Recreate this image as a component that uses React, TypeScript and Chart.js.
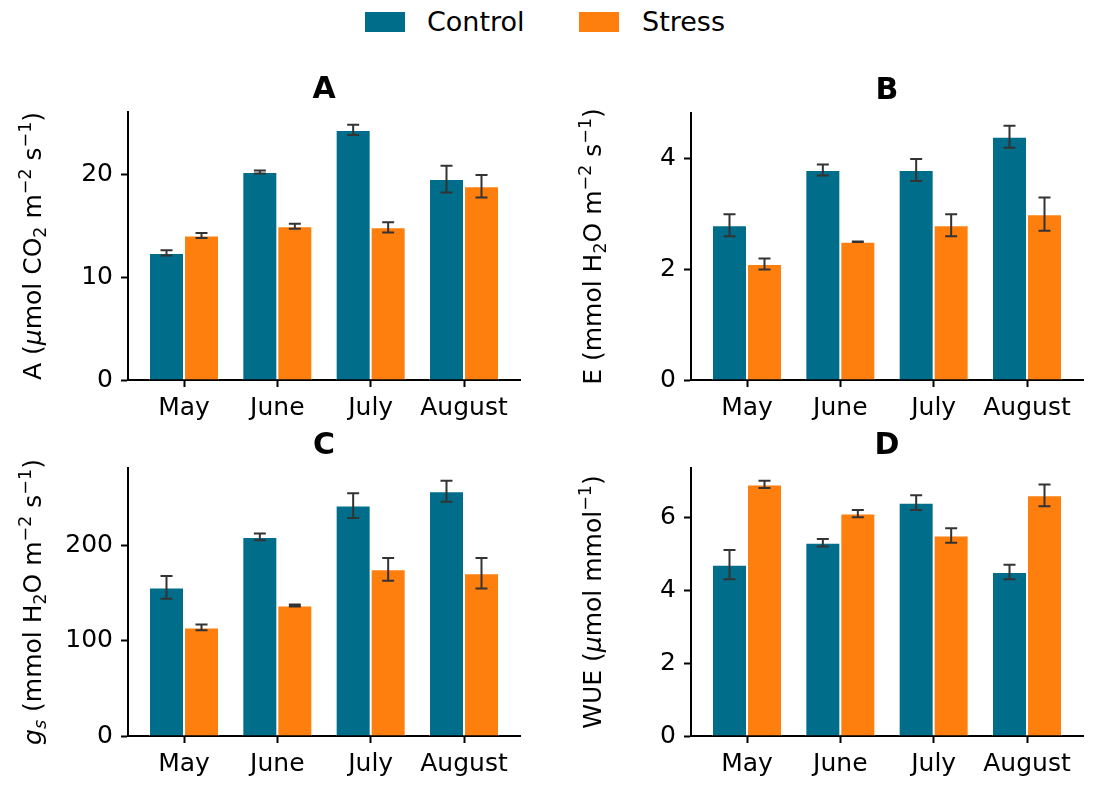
import React, { useEffect, useRef } from "react";
import { Chart, registerables } from "chart.js";

Chart.register(...registerables);

// ---------- data ----------
const months = ["May", "June", "July", "August"];
const seriesNames = ["Control", "Stress"];
const seriesColors = ["#006E8A", "#FF7F0E"];

const aControl = [12.4, 20.3, 24.4, 19.6];
const aControlErr = [0.25, 0.15, 0.5, 1.3];
const aStress = [14.1, 15.0, 14.9, 18.9];
const aStressErr = [0.25, 0.25, 0.5, 1.1];
const aTicks = [0, 10, 20];

const eControl = [2.8, 3.8, 3.8, 4.4];
const eControlErr = [0.2, 0.1, 0.2, 0.2];
const eStress = [2.1, 2.5, 2.8, 3.0];
const eStressErr = [0.1, 0.005, 0.2, 0.3];
const eTicks = [0, 2, 4];

const gsControl = [156, 209, 242, 257];
const gsControlErr = [12, 3.5, 13, 11];
const gsStress = [114, 137, 175, 171];
const gsStressErr = [3, 1, 12, 16];
const gsTicks = [0, 100, 200];

const wueControl = [4.7, 5.3, 6.4, 4.5];
const wueControlErr = [0.4, 0.1, 0.2, 0.2];
const wueStress = [6.9, 6.1, 5.5, 6.6];
const wueStressErr = [0.1, 0.1, 0.2, 0.3];
const wueTicks = [0, 2, 4, 6];

// label segments: [text, kind] kind: n normal, i italic, sub, subi, sup
const aLabel = [["A (", "n"], ["μ", "i"], ["mol CO", "n"], ["2", "sub"], [" m", "n"], ["−2", "sup"], [" s", "n"], ["−1", "sup"], [")", "n"]];
const eLabel = [["E (mmol H", "n"], ["2", "sub"], ["O m", "n"], ["−2", "sup"], [" s", "n"], ["−1", "sup"], [")", "n"]];
const gsLabel = [["g", "i"], ["s", "subi"], [" (mmol H", "n"], ["2", "sub"], ["O m", "n"], ["−2", "sup"], [" s", "n"], ["−1", "sup"], [")", "n"]];
const wueLabel = [["WUE (", "n"], ["μ", "i"], ["mol mmol", "n"], ["−1", "sup"], [")", "n"]];

const FONT = "'DejaVu Sans', sans-serif";

const panels = [
  {
    title: "A", label: aLabel, control: aControl, controlErr: aControlErr, stress: aStress, stressErr: aStressErr, ticks: aTicks,
    box: { left: 0, top: 55, width: 545, height: 375 }, area: { left: 128, top: 112, right: 520, bottom: 380 }, labelGap: 96,
  },
  {
    title: "B", label: eLabel, control: eControl, controlErr: eControlErr, stress: eStress, stressErr: eStressErr, ticks: eTicks,
    box: { left: 560, top: 55, width: 535, height: 375 }, area: { left: 691, top: 113, right: 1083, bottom: 380 }, labelGap: 99,
  },
  {
    title: "C", label: gsLabel, control: gsControl, controlErr: gsControlErr, stress: gsStress, stressErr: gsStressErr, ticks: gsTicks,
    box: { left: 0, top: 415, width: 545, height: 376 }, area: { left: 128, top: 468, right: 520, bottom: 736 }, labelGap: 96,
  },
  {
    title: "D", label: wueLabel, control: wueControl, controlErr: wueControlErr, stress: wueStress, stressErr: wueStressErr, ticks: wueTicks,
    box: { left: 560, top: 415, width: 535, height: 376 }, area: { left: 691, top: 468, right: 1083, bottom: 736 }, labelGap: 99,
  },
];

function drawRichLabel(ctx: CanvasRenderingContext2D, segs: any[], cx: number, cy: number, size: number) {
  const fontFor = (k: string) => {
    const small = k === "sub" || k === "sup" || k === "subi";
    const it = k === "i" || k === "subi";
    return `${it ? "italic " : ""}${small ? size * 0.7 : size}px ${FONT}`;
  };
  ctx.save();
  ctx.translate(cx, cy);
  ctx.rotate(-Math.PI / 2);
  ctx.fillStyle = "#000";
  ctx.textAlign = "left";
  ctx.textBaseline = "alphabetic";
  let total = 0;
  const widths = segs.map(([t, k]) => {
    ctx.font = fontFor(k);
    const w = ctx.measureText(t).width;
    total += w;
    return w;
  });
  let x = -total / 2;
  const base = size * 0.36;
  segs.forEach(([t, k], i) => {
    ctx.font = fontFor(k);
    let y = base;
    if (k === "sub" || k === "subi") y = base + size * 0.2;
    if (k === "sup") y = base - size * 0.42;
    ctx.fillText(t, x, y);
    x += widths[i];
  });
  ctx.restore();
}

function Panel({ p }: { p: any }) {
  const ref = useRef<HTMLCanvasElement | null>(null);
  useEffect(() => {
    if (!ref.current) return;
    const { box, area } = p;
    const padTop = area.top - box.top;
    const padRight = box.left + box.width - area.right;
    const yW = area.left - box.left;
    const xH = box.top + box.height - area.bottom;
    const errs = [p.controlErr, p.stressErr];
    const vals = [p.control, p.stress];
    let top = 0;
    vals.forEach((v: number[], si: number) => v.forEach((x, i) => { top = Math.max(top, x + errs[si][i]); }));
    const yMax = top * 1.05;

    const decor = {
      id: "decor" + p.title,
      afterDatasetsDraw(chart: any) {
        const ctx = chart.ctx;
        const ys = chart.scales.y;
        ctx.save();
        ctx.strokeStyle = "#333333";
        ctx.lineWidth = 2;
        chart.data.datasets.forEach((ds: any, di: number) => {
          const meta = chart.getDatasetMeta(di);
          meta.data.forEach((bar: any, i: number) => {
            const v = ds.data[i].y;
            const e = errs[di][i];
            const y1 = ys.getPixelForValue(v + e);
            const y2 = ys.getPixelForValue(v - e);
            const cx = bar.x;
            ctx.beginPath();
            ctx.moveTo(cx, y1);
            ctx.lineTo(cx, y2);
            ctx.moveTo(cx - 6, y1);
            ctx.lineTo(cx + 6, y1);
            ctx.moveTo(cx - 6, y2);
            ctx.lineTo(cx + 6, y2);
            ctx.stroke();
          });
        });
        ctx.restore();
      },
      afterDraw(chart: any) {
        const ctx = chart.ctx;
        const ca = chart.chartArea;
        ctx.save();
        ctx.fillStyle = "#000";
        ctx.font = `bold 30px ${FONT}`;
        ctx.textAlign = "center";
        ctx.textBaseline = "alphabetic";
        ctx.fillText(p.title, (ca.left + ca.right) / 2, ca.top - 14);
        ctx.restore();
        drawRichLabel(ctx, p.label, ca.left - p.labelGap, (ca.top + ca.bottom) / 2, 25);
      },
    };

    const tickFont = { family: FONT, size: 25 };
    const chart = new Chart(ref.current, {
      type: "bar",
      data: {
        datasets: vals.map((v: number[], si: number) => ({
          label: seriesNames[si],
          data: months.map((_, i) => ({ x: i, y: v[i] })),
          backgroundColor: seriesColors[si],
          borderColor: "#ffffff",
          borderWidth: 1,
          categoryPercentage: 0.75,
          barPercentage: 1,
        })),
      },
      options: {
        animation: false,
        responsive: false,
        events: [],
        layout: { padding: { top: padTop, right: padRight, left: 0, bottom: 0 } },
        plugins: { legend: { display: false }, tooltip: { enabled: false }, title: { display: false } },
        scales: {
          x: {
            type: "linear",
            min: -0.6,
            max: 3.6,
            offset: false,
            z: 1,
            afterBuildTicks: (s: any) => { s.ticks = months.map((_, i) => ({ value: i })); },
            afterFit: (s: any) => { s.height = xH; },
            ticks: {
              callback: (v: any) => months[v] ?? "",
              font: tickFont, color: "#000", padding: 6, maxRotation: 0, autoSkip: false,
            },
            grid: { drawOnChartArea: false, drawTicks: true, tickLength: 7, tickWidth: 2, tickColor: "#000", offset: false },
            border: { display: true, color: "#000", width: 2 },
          },
          y: {
            min: 0,
            max: yMax,
            z: 1,
            afterBuildTicks: (s: any) => { s.ticks = p.ticks.map((t: number) => ({ value: t })); },
            afterFit: (s: any) => { s.width = yW; },
            ticks: { font: tickFont, color: "#000", padding: 8, callback: (v: any) => String(v) },
            grid: { drawOnChartArea: false, drawTicks: true, tickLength: 7, tickWidth: 2, tickColor: "#000" },
            border: { display: true, color: "#000", width: 2 },
          },
        },
      },
      plugins: [decor],
    } as any);
    return () => chart.destroy();
  }, [p]);
  return (
    <canvas
      ref={ref}
      width={p.box.width}
      height={p.box.height}
      style={{ position: "absolute", left: p.box.left, top: p.box.top, width: p.box.width, height: p.box.height, display: "block" }}
    />
  );
}

export default function App() {
  const legendItems = [
    { boxLeft: 365, textLeft: 427 },
    { boxLeft: 579, textLeft: 642 },
  ];
  return (
    <div style={{ position: "absolute", left: 0, top: 0, width: 1095, height: 791, background: "#fff", overflow: "hidden", fontFamily: FONT }}>
      {legendItems.map((it, i) => (
        <React.Fragment key={i}>
          <div style={{ position: "absolute", left: it.boxLeft, top: 12, width: 40, height: 20, background: seriesColors[i] }} />
          <div style={{ position: "absolute", left: it.textLeft, top: 8, fontSize: 27, lineHeight: "27px", color: "#000", whiteSpace: "nowrap" }}>
            {seriesNames[i]}
          </div>
        </React.Fragment>
      ))}
      {panels.map((p) => (
        <Panel key={p.title} p={p} />
      ))}
    </div>
  );
}
